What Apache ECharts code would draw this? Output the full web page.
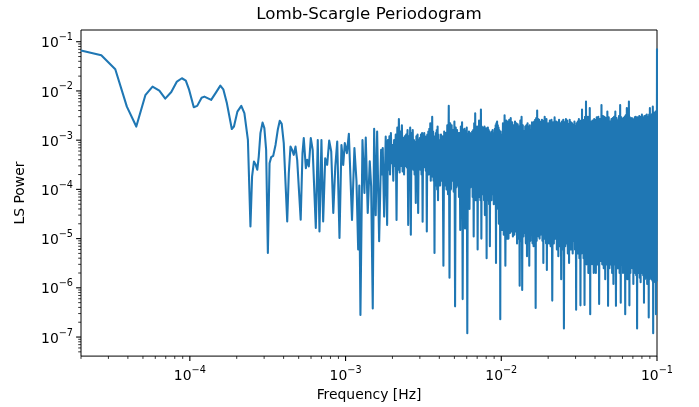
<!DOCTYPE html>
<html><head><meta charset="utf-8">
<script src="https://cdn.jsdelivr.net/npm/echarts@6/dist/echarts.min.js"></script>
<style>html,body{margin:0;padding:0;background:#fff}#c{width:699px;height:407px}</style>
</head><body><div id="c"></div>
<script>
// ---------- data ----------
const titleText = 'Lomb-Scargle Periodogram';
const xName = 'Frequency [Hz]';
const yName = 'LS Power';

// sparse low-frequency part (2e-5 .. 2e-3 Hz)
const freqLow = [
2.0e-5, 2.70e-5, 3.32e-5, 3.94e-5, 4.53e-5, 5.18e-5, 5.76e-5, 6.37e-5, 6.95e-5, 7.60e-5,
8.26e-5, 8.89e-5, 9.42e-5, 9.90e-5, 1.06e-4, 1.115e-4, 1.19e-4, 1.24e-4, 1.37e-4, 1.47e-4,
1.57e-4, 1.64e-4, 1.73e-4, 1.86e-4, 1.92e-4, 2.02e-4, 2.14e-4, 2.19e-4, 2.24e-4, 2.36e-4,
2.45e-4, 2.51e-4, 2.58e-4, 2.65e-4, 2.71e-4, 2.77e-4, 2.84e-4, 2.93e-4, 3.01e-4, 3.09e-4,
3.17e-4, 3.25e-4, 3.33e-4, 3.43e-4, 3.55e-4, 3.67e-4, 3.78e-4, 3.89e-4, 4.01e-4, 4.22e-4,
4.32e-4, 4.43e-4, 4.54e-4, 4.65e-4, 4.77e-4, 4.89e-4, 5.01e-4, 5.15e-4, 5.29e-4, 5.39e-4,
5.56e-4, 5.67e-4, 5.81e-4, 5.98e-4, 6.15e-4, 6.44e-4, 6.63e-4, 6.80e-4, 7.00e-4, 7.18e-4,
7.40e-4, 7.62e-4, 7.85e-4, 8.09e-4, 8.34e-4, 8.59e-4, 8.84e-4, 9.14e-4, 9.41e-4, 9.66e-4,
9.89e-4, 1.02e-3, 1.05e-3, 1.10e-3, 1.14e-3, 1.175e-3, 1.205e-3, 1.225e-3, 1.246e-3, 1.284e-3,
1.322e-3, 1.348e-3, 1.388e-3, 1.43e-3, 1.46e-3, 1.495e-3, 1.526e-3, 1.562e-3, 1.595e-3, 1.643e-3,
1.692e-3, 1.712e-3, 1.733e-3, 1.769e-3, 1.811e-3, 1.849e-3, 1.870e-3, 1.890e-3, 1.913e-3, 1.930e-3,
1.955e-3, 1.975e-3
];
const powerLow = [
0.066, 0.053, 0.0275, 4.8e-3, 1.89e-3, 8.2e-3, 0.0122, 0.0101, 6.98e-3, 9.5e-3,
0.0155, 0.0181, 0.0162, 0.0105, 4.68e-3, 4.97e-3, 7.3e-3, 7.66e-3, 6.57e-3, 9.25e-3,
0.0128, 0.0108, 5.6e-3, 1.69e-3, 1.89e-3, 3.8e-3, 4.97e-3, 4.6e-3, 3.53e-3, 1.01e-3,
1.77e-5, 1.83e-4, 3.68e-4, 3.15e-4, 2.5e-4, 4.65e-4, 1.39e-3, 2.27e-3, 1.75e-3, 6.35e-4,
5.1e-6, 3.41e-4, 4.52e-4, 4.8e-4, 8.0e-4, 1.62e-3, 2.47e-3, 2.14e-3, 8.7e-4, 2.23e-5,
2.14e-4, 7.4e-4, 6.35e-4, 5.03e-4, 7.4e-4, 3.98e-4, 3.68e-4, 2.42e-5, 5.45e-4, 1.1e-3,
2.7e-4, 3.98e-4, 2.92e-4, 1.1e-3, 6.35e-4, 1.64e-5, 1.01e-3, 1.4e-5, 1.01e-3, 2.23e-5,
4.3e-4, 3.15e-4, 9.8e-4, 5.9e-4, 3.3e-5, 2.92e-4, 9.4e-4, 1.03e-5, 8.0e-4, 3.15e-4,
8.7e-4, 5.45e-4, 1.34e-3, 2.4e-5, 6.9e-4, 1.5e-4, 6e-6, 1.2e-4, 2.8e-7, 1.0e-3,
8.5e-5, 1.13e-3, 3.3e-5, 3.7e-4, 1.15e-4, 3.8e-7, 1.7e-3, 3.0e-5, 1.5e-3, 8.8e-6,
6.4e-4, 2.0e-4, 6.9e-4, 2.8e-5, 1.18e-3, 1.9e-5, 1.0e-3, 2.5e-4, 1.2e-3, 2.0e-4,
1.4e-3, 3.4e-4
];

// dense part A: 2e-3 .. 4e-3 Hz
const freqA = [
2.000e-3, 2.025e-3, 2.050e-3, 2.075e-3, 2.100e-3, 2.125e-3, 2.150e-3, 2.175e-3, 2.200e-3, 2.225e-3,
2.250e-3, 2.275e-3, 2.300e-3, 2.325e-3, 2.350e-3, 2.375e-3, 2.400e-3, 2.425e-3, 2.450e-3, 2.475e-3,
2.500e-3, 2.525e-3, 2.550e-3, 2.575e-3, 2.600e-3, 2.625e-3, 2.650e-3, 2.675e-3, 2.700e-3, 2.725e-3,
2.750e-3, 2.775e-3, 2.800e-3, 2.825e-3, 2.850e-3, 2.875e-3, 2.900e-3, 2.925e-3, 2.950e-3, 2.975e-3,
3.000e-3, 3.025e-3, 3.050e-3, 3.075e-3, 3.100e-3, 3.125e-3, 3.150e-3, 3.175e-3, 3.200e-3, 3.225e-3,
3.250e-3, 3.275e-3, 3.300e-3, 3.325e-3, 3.350e-3, 3.375e-3, 3.400e-3, 3.425e-3, 3.450e-3, 3.475e-3,
3.500e-3, 3.525e-3, 3.550e-3, 3.575e-3, 3.600e-3, 3.625e-3, 3.650e-3, 3.675e-3, 3.700e-3, 3.725e-3,
3.750e-3, 3.775e-3, 3.800e-3, 3.825e-3, 3.850e-3, 3.875e-3, 3.900e-3, 3.925e-3, 3.950e-3, 3.975e-3
];
const powerA = [
8e-4, 1.5e-4, 1.0e-3, 3e-4, 1.3e-3, 2.4e-5, 1.8e-3, 2.5e-4, 2.7e-3, 2.2e-4,
1.5e-3, 3e-4, 2.0e-3, 2.3e-4, 1.1e-3, 2e-4, 1.2e-3, 3e-4, 1.3e-3, 2.8e-4,
1.6e-3, 1.9e-5, 1.2e-3, 2.6e-4, 1.8e-3, 1.2e-5, 1.4e-3, 3e-4, 1.6e-3, 2.5e-4,
1.0e-3, 2e-4, 9e-4, 5.3e-5, 1.2e-3, 2.5e-4, 1.3e-3, 3.3e-5, 1.0e-3, 3e-4,
1.1e-3, 2.5e-4, 1.3e-3, 2e-4, 1.4e-3, 2.2e-5, 1.2e-3, 2.8e-4, 1.4e-3, 3e-4,
1.1e-3, 2.4e-4, 1.2e-3, 1.4e-5, 1.3e-3, 2e-4, 1.5e-3, 2e-4, 1.7e-3, 2.5e-4,
2.2e-3, 1.5e-4, 1.6e-3, 2e-4, 3.0e-3, 1.8e-4, 1.5e-3, 1.5e-4, 1.1e-3, 5.1e-6,
1.2e-3, 1.3e-4, 1.4e-3, 1.2e-4, 1.6e-3, 1e-4, 1.9e-3, 6e-5, 1.3e-3, 1.2e-4
];

// dense part B: 4e-3 .. 1e-2 Hz
const freqB = [
4.00e-3, 4.05e-3, 4.10e-3, 4.15e-3, 4.20e-3, 4.25e-3, 4.30e-3, 4.35e-3, 4.40e-3, 4.45e-3,
4.50e-3, 4.55e-3, 4.60e-3, 4.65e-3, 4.70e-3, 4.75e-3, 4.80e-3, 4.85e-3, 4.90e-3, 4.95e-3,
5.00e-3, 5.05e-3, 5.10e-3, 5.15e-3, 5.20e-3, 5.25e-3, 5.30e-3, 5.35e-3, 5.40e-3, 5.45e-3,
5.50e-3, 5.55e-3, 5.60e-3, 5.65e-3, 5.70e-3, 5.75e-3, 5.80e-3, 5.85e-3, 5.90e-3, 5.95e-3,
6.00e-3, 6.05e-3, 6.10e-3, 6.15e-3, 6.20e-3, 6.25e-3, 6.30e-3, 6.35e-3, 6.40e-3, 6.45e-3,
6.50e-3, 6.55e-3, 6.60e-3, 6.65e-3, 6.70e-3, 6.75e-3, 6.80e-3, 6.85e-3, 6.90e-3, 6.95e-3,
7.00e-3, 7.05e-3, 7.10e-3, 7.15e-3, 7.20e-3, 7.25e-3, 7.30e-3, 7.35e-3, 7.40e-3, 7.45e-3,
7.50e-3, 7.55e-3, 7.60e-3, 7.65e-3, 7.70e-3, 7.75e-3, 7.80e-3, 7.85e-3, 7.90e-3, 7.95e-3,
8.00e-3, 8.05e-3, 8.10e-3, 8.15e-3, 8.20e-3, 8.25e-3, 8.30e-3, 8.35e-3, 8.40e-3, 8.45e-3,
8.50e-3, 8.55e-3, 8.60e-3, 8.65e-3, 8.70e-3, 8.75e-3, 8.80e-3, 8.85e-3, 8.90e-3, 8.95e-3,
9.00e-3, 9.05e-3, 9.10e-3, 9.15e-3, 9.20e-3, 9.25e-3, 9.30e-3, 9.35e-3, 9.40e-3, 9.45e-3,
9.50e-3, 9.55e-3, 9.60e-3, 9.65e-3, 9.70e-3, 9.75e-3, 9.80e-3, 9.85e-3, 9.90e-3, 9.95e-3
];
const powerB = [
1.0e-3, 1.2e-4, 1.3e-3, 1.5e-4, 1.2e-3, 2.8e-6, 1.5e-3, 1.2e-4, 1.4e-3, 1.0e-4,
2.0e-3, 8e-5, 5.0e-3, 1.6e-6, 2.2e-3, 1.0e-4, 2.0e-3, 1.5e-4, 1.6e-3, 9e-5,
2.4e-3, 4.2e-7, 1.8e-3, 1.1e-4, 1.6e-3, 1.2e-4, 1.4e-3, 7e-5, 1.4e-3, 1.5e-5,
1.9e-3, 1.0e-4, 2.3e-3, 5.9e-7, 1.6e-3, 8e-5, 1.7e-3, 1.6e-5, 1.5e-3, 1.2e-4,
1.8e-3, 1.2e-7, 1.3e-3, 9e-5, 1.5e-3, 4e-5, 1.4e-3, 1.1e-4, 1.2e-3, 1.3e-4,
1.5e-3, 7e-5, 1.6e-3, 1.1e-5, 2.2e-3, 8e-5, 3.5e-3, 6e-5, 1.9e-3, 1.0e-4,
1.9e-3, 6e-6, 1.6e-3, 7e-5, 2.5e-3, 7e-5, 2.0e-3, 6e-5, 4.2e-3, 1.0e-5,
1.9e-3, 8e-5, 1.8e-3, 8e-5, 1.6e-3, 6e-5, 1.9e-3, 3e-5, 1.7e-3, 7e-5,
1.75e-3, 4e-6, 1.5e-3, 6e-5, 1.8e-3, 1e-4, 1.6e-3, 5e-5, 1.5e-3, 7e-6,
1.4e-3, 6e-5, 1.3e-3, 6e-5, 1.5e-3, 8e-5, 1.6e-3, 1.5e-4, 1.4e-3, 5e-5,
1.3e-3, 1.2e-4, 1.7e-3, 6e-5, 2.0e-3, 3.2e-6, 2.2e-3, 5e-5, 2.4e-3, 6e-5,
2.0e-3, 4e-5, 1.8e-3, 2e-5, 1.6e-3, 5e-5, 1.3e-3, 2.3e-7, 1.5e-3, 3e-5
];

// dense part C: 1e-2 .. 2e-2 Hz
const freqC = [
1.0000e-2, 1.0125e-2, 1.0250e-2, 1.0375e-2, 1.0500e-2, 1.0625e-2, 1.0750e-2, 1.0875e-2,
1.1000e-2, 1.1125e-2, 1.1250e-2, 1.1375e-2, 1.1500e-2, 1.1625e-2, 1.1750e-2, 1.1875e-2,
1.2000e-2, 1.2125e-2, 1.2250e-2, 1.2375e-2, 1.2500e-2, 1.2625e-2, 1.2750e-2, 1.2875e-2,
1.3000e-2, 1.3125e-2, 1.3250e-2, 1.3375e-2, 1.3500e-2, 1.3625e-2, 1.3750e-2, 1.3875e-2,
1.4000e-2, 1.4125e-2, 1.4250e-2, 1.4375e-2, 1.4500e-2, 1.4625e-2, 1.4750e-2, 1.4875e-2,
1.5000e-2, 1.5125e-2, 1.5250e-2, 1.5375e-2, 1.5500e-2, 1.5625e-2, 1.5750e-2, 1.5875e-2,
1.6000e-2, 1.6125e-2, 1.6250e-2, 1.6375e-2, 1.6500e-2, 1.6625e-2, 1.6750e-2, 1.6875e-2,
1.7000e-2, 1.7125e-2, 1.7250e-2, 1.7375e-2, 1.7500e-2, 1.7625e-2, 1.7750e-2, 1.7875e-2,
1.8000e-2, 1.8125e-2, 1.8250e-2, 1.8375e-2, 1.8500e-2, 1.8625e-2, 1.8750e-2, 1.8875e-2,
1.9000e-2, 1.9125e-2, 1.9250e-2, 1.9375e-2, 1.9500e-2, 1.9625e-2, 1.9750e-2, 1.9875e-2
];
const powerC = [
1.3e-3, 1.5e-5, 2.2e-3, 1.2e-5, 3.2e-3, 2.8e-6, 2.5e-3, 1.0e-5,
2.4e-3, 1e-5, 2.6e-3, 1.3e-5, 2.8e-3, 1.4e-5, 2.3e-3, 1.1e-5,
2.0e-3, 1.2e-5, 2.4e-3, 1.4e-5, 2.2e-3, 8e-6, 2.1e-3, 1.0e-5,
1.9e-3, 1.1e-6, 2.5e-3, 9e-6, 3.0e-3, 9e-7, 2.0e-3, 1.1e-5,
1.5e-3, 1.3e-5, 1.9e-3, 8e-6, 2.0e-3, 4.4e-6, 2.2e-3, 1.0e-5,
1.8e-3, 2.8e-6, 2.0e-3, 9e-6, 1.6e-3, 1.2e-5, 2.3e-3, 8e-6,
2.2e-3, 7e-6, 2.4e-3, 1.0e-5, 2.6e-3, 3.9e-7, 2.8e-3, 9e-6,
4.0e-3, 1.5e-5, 2.7e-3, 1.1e-5, 2.6e-3, 1.0e-5, 2.3e-3, 1.2e-5,
2.4e-3, 1.4e-5, 2.6e-3, 9e-6, 2.0e-3, 3.2e-6, 2.5e-3, 1.0e-5,
3.0e-3, 1.2e-5, 2.4e-3, 8e-6, 2.7e-3, 2.3e-6, 2.2e-3, 9e-6
];

// dense part D: 2e-2 .. 4e-2 Hz
const freqD = [
2.000e-2, 2.025e-2, 2.050e-2, 2.075e-2, 2.100e-2, 2.125e-2, 2.150e-2, 2.175e-2, 2.200e-2, 2.225e-2,
2.250e-2, 2.275e-2, 2.300e-2, 2.325e-2, 2.350e-2, 2.375e-2, 2.400e-2, 2.425e-2, 2.450e-2, 2.475e-2,
2.500e-2, 2.525e-2, 2.550e-2, 2.575e-2, 2.600e-2, 2.625e-2, 2.650e-2, 2.675e-2, 2.700e-2, 2.725e-2,
2.750e-2, 2.775e-2, 2.800e-2, 2.825e-2, 2.850e-2, 2.875e-2, 2.900e-2, 2.925e-2, 2.950e-2, 2.975e-2,
3.000e-2, 3.025e-2, 3.050e-2, 3.075e-2, 3.100e-2, 3.125e-2, 3.150e-2, 3.175e-2, 3.200e-2, 3.225e-2,
3.250e-2, 3.275e-2, 3.300e-2, 3.325e-2, 3.350e-2, 3.375e-2, 3.400e-2, 3.425e-2, 3.450e-2, 3.475e-2,
3.500e-2, 3.525e-2, 3.550e-2, 3.575e-2, 3.600e-2, 3.625e-2, 3.650e-2, 3.675e-2, 3.700e-2, 3.725e-2,
3.750e-2, 3.775e-2, 3.800e-2, 3.825e-2, 3.850e-2, 3.875e-2, 3.900e-2, 3.925e-2, 3.950e-2, 3.975e-2
];
const powerD = [
2.2e-3, 8e-6, 2.5e-3, 7e-6, 2.6e-3, 5.5e-7, 2.3e-3, 8e-6, 2.9e-3, 1e-5,
2.4e-3, 6e-6, 2.3e-3, 4.4e-6, 2.6e-3, 7e-6, 2.2e-3, 1.5e-6, 2.4e-3, 6e-6,
2.6e-3, 1.5e-7, 2.3e-3, 7e-6, 2.7e-3, 8e-6, 2.5e-3, 5e-6, 2.1e-3, 3.2e-6,
2.6e-3, 6e-6, 2.3e-3, 6e-6, 2.2e-3, 5e-6, 2.0e-3, 9e-6, 2.4e-3, 6e-6,
1.9e-3, 3.6e-7, 2.2e-3, 5e-6, 2.4e-3, 5e-6, 2.7e-3, 4e-6, 2.2e-3, 4.4e-7,
2.5e-3, 5e-6, 4.2e-3, 6e-6, 2.6e-3, 4e-6, 2.5e-3, 4.5e-7, 3.0e-3, 4e-6,
6.1e-3, 3e-6, 2.8e-3, 4e-6, 3.0e-3, 2e-6, 2.6e-3, 3.5e-6, 4.5e-3, 2.9e-7,
2.4e-3, 3e-6, 1.9e-3, 3.5e-6, 2.5e-3, 3e-6, 2.4e-3, 2e-6, 2.7e-3, 3.5e-6
];

// dense part E: 4e-2 .. 1e-1 Hz
const freqE = [
4.00e-2, 4.05e-2, 4.10e-2, 4.15e-2, 4.20e-2, 4.25e-2, 4.30e-2, 4.35e-2, 4.40e-2, 4.45e-2,
4.50e-2, 4.55e-2, 4.60e-2, 4.65e-2, 4.70e-2, 4.75e-2, 4.80e-2, 4.85e-2, 4.90e-2, 4.95e-2,
5.00e-2, 5.05e-2, 5.10e-2, 5.15e-2, 5.20e-2, 5.25e-2, 5.30e-2, 5.35e-2, 5.40e-2, 5.45e-2,
5.50e-2, 5.55e-2, 5.60e-2, 5.65e-2, 5.70e-2, 5.75e-2, 5.80e-2, 5.85e-2, 5.90e-2, 5.95e-2,
6.00e-2, 6.05e-2, 6.10e-2, 6.15e-2, 6.20e-2, 6.25e-2, 6.30e-2, 6.35e-2, 6.40e-2, 6.45e-2,
6.50e-2, 6.55e-2, 6.60e-2, 6.65e-2, 6.70e-2, 6.75e-2, 6.80e-2, 6.85e-2, 6.90e-2, 6.95e-2,
7.00e-2, 7.05e-2, 7.10e-2, 7.15e-2, 7.20e-2, 7.25e-2, 7.30e-2, 7.35e-2, 7.40e-2, 7.45e-2,
7.50e-2, 7.55e-2, 7.60e-2, 7.65e-2, 7.70e-2, 7.75e-2, 7.80e-2, 7.85e-2, 7.90e-2, 7.95e-2,
8.00e-2, 8.05e-2, 8.10e-2, 8.15e-2, 8.20e-2, 8.25e-2, 8.30e-2, 8.35e-2, 8.40e-2, 8.45e-2,
8.50e-2, 8.55e-2, 8.60e-2, 8.65e-2, 8.70e-2, 8.75e-2, 8.80e-2, 8.85e-2, 8.90e-2, 8.95e-2,
9.00e-2, 9.05e-2, 9.10e-2, 9.15e-2, 9.20e-2, 9.25e-2, 9.30e-2, 9.35e-2, 9.40e-2, 9.45e-2,
9.50e-2, 9.55e-2, 9.60e-2, 9.65e-2, 9.70e-2, 9.75e-2, 9.80e-2, 9.85e-2, 9.90e-2, 9.95e-2,
1.0e-1
];
const powerE = [
2.6e-3, 2e-6, 2.9e-3, 3e-6, 3.0e-3, 4.7e-7, 2.7e-3, 3.5e-6, 5.2e-3, 3e-6,
3.1e-3, 2.5e-6, 3.0e-3, 1.5e-6, 2.8e-3, 3e-6, 3.8e-3, 4.3e-7, 2.9e-3, 2.5e-6,
2.4e-3, 3e-6, 2.7e-3, 2e-6, 2.8e-3, 1.2e-6, 3.0e-3, 3e-6, 3.8e-3, 4.3e-7,
2.8e-3, 2.5e-6, 2.5e-3, 2.5e-6, 3.1e-3, 2e-6, 5.2e-3, 5e-7, 2.9e-3, 3e-6,
2.6e-3, 2e-6, 2.8e-3, 2.5e-6, 3.0e-3, 2.9e-7, 3.2e-3, 2e-6, 4.5e-3, 1.5e-6,
3.0e-3, 2.5e-6, 6.1e-3, 4.4e-7, 2.9e-3, 2e-6, 2.6e-3, 3e-6, 2.8e-3, 2.5e-6,
2.4e-3, 1.2e-6, 2.7e-3, 2e-6, 2.9e-3, 2.5e-6, 3.0e-3, 1.8e-6, 2.7e-3, 1.5e-7,
2.9e-3, 2e-6, 2.8e-3, 2e-6, 3.1e-3, 1.6e-6, 2.7e-3, 1.3e-6, 3.0e-3, 2e-6,
3.3e-3, 3e-6, 2.9e-3, 1.8e-6, 2.9e-3, 5e-7, 3.1e-3, 1.5e-6, 3.0e-3, 2e-6,
3.2e-3, 1.6e-6, 3.3e-3, 1.2e-6, 3.0e-3, 1.8e-6, 3.0e-3, 2.5e-7, 3.3e-3, 1.5e-6,
4.5e-3, 2.5e-6, 3.2e-3, 1.6e-6, 3.2e-3, 1.5e-6, 3.4e-3, 1.4e-6, 4.8e-3, 1.2e-7,
3.3e-3, 1.5e-6, 3.6e-3, 2e-6, 3.4e-3, 1.3e-6, 3.8e-3, 2.9e-7, 3.5e-3, 1.4e-6,
0.073
];

// axis ranges and ticks
const xRange = [2.0e-5, 0.1];
const yRange = [4.1e-8, 0.173];
const xMajorTicks = [1e-4, 1e-3, 1e-2, 1e-1];
const yMajorTicks = [1e-7, 1e-6, 1e-5, 1e-4, 1e-3, 1e-2, 1e-1];
const minorMantissas = [2, 3, 4, 5, 6, 7, 8, 9];
const xDecades = [1e-5, 1e-4, 1e-3, 1e-2];
const yDecades = [1e-8, 1e-7, 1e-6, 1e-5, 1e-4, 1e-3, 1e-2, 1e-1];

// ---------- build ----------
const FONT = 'DejaVu Sans';
const series = [];
[[freqLow, powerLow], [freqA, powerA], [freqB, powerB], [freqC, powerC], [freqD, powerD], [freqE, powerE]]
  .forEach(([fs, ps]) => fs.forEach((f, i) => series.push([f, ps[i]])));

function minorList(decades, lo, hi) {
  const out = [];
  decades.forEach(d => minorMantissas.forEach(m => {
    const v = m * d;
    if (v >= lo * 0.9999 && v <= hi * 1.0001) out.push(v);
  }));
  return out;
}
const xTicks = xMajorTicks.map(v => [v, 1, yRange[0]])
  .concat(minorList(xDecades, xRange[0], xRange[1]).map(v => [v, 0, yRange[0]]));
const yTicks = yMajorTicks.map(v => [v, 1, xRange[0]])
  .concat(minorList(yDecades, yRange[0], yRange[1]).map(v => [v, 0, xRange[0]]));

function powLabel(v) {
  const l = Math.log10(v), e = Math.round(l);
  if (Math.abs(l - e) > 1e-6) return '';
  return '{b|10}{s|' + (e < 0 ? '\u2212' : '') + Math.abs(e) + '}';
}
const RICH = {
  b: { fontFamily: FONT, fontSize: 13.9, color: '#000', lineHeight: 18, verticalAlign: 'bottom' },
  s: { fontFamily: FONT, fontSize: 9.7, color: '#000', lineHeight: 11, verticalAlign: 'top' }
};

const chart = echarts.init(document.getElementById('c'), null, { renderer: 'canvas' });
chart.setOption({
  animation: false,
  backgroundColor: '#fff',
  title: {
    text: titleText, left: 369, top: 6, textAlign: 'center', padding: 0,
    textStyle: { fontFamily: FONT, fontSize: 16.7, fontWeight: 'normal', color: '#000' }
  },
  grid: { left: 81, top: 30, width: 576, height: 327, show: true, borderColor: '#000', borderWidth: 1, backgroundColor: 'transparent' },
  xAxis: {
    type: 'log', logBase: 10, min: xRange[0], max: xRange[1],
    axisLine: { show: false }, axisTick: { show: false }, splitLine: { show: false }, minorTick: { show: false },
    axisLabel: { interval: 0, margin: 9, formatter: powLabel, rich: RICH, hideOverlap: false },
    name: xName, nameLocation: 'middle', nameGap: 31,
    nameTextStyle: { fontFamily: FONT, fontSize: 13.9, color: '#000' }
  },
  yAxis: {
    type: 'log', logBase: 10, min: yRange[0], max: yRange[1],
    axisLine: { show: false }, axisTick: { show: false }, splitLine: { show: false }, minorTick: { show: false },
    axisLabel: { interval: 0, margin: 8, formatter: powLabel, rich: RICH, hideOverlap: false },
    name: yName, nameLocation: 'middle', nameGap: 54, nameRotate: 90,
    nameTextStyle: { fontFamily: FONT, fontSize: 13.9, color: '#000' }
  },
  series: [
    {
      type: 'line', data: series, symbol: 'none', showSymbol: false, clip: true, z: 2,
      silent: true,
      lineStyle: { color: '#1f77b4', width: 2.08, join: 'round', cap: 'butt' }
    },
    {
      type: 'custom', coordinateSystem: 'cartesian2d', clip: false, silent: true, z: 5,
      encode: { x: 0, y: 2 }, data: xTicks,
      renderItem: function (params, api) {
        const v = api.value(0), maj = api.value(1);
        const p = api.coord([v, yRange[0]]);
        const cs = params.coordSys, yb = cs.y + cs.height;
        const len = maj ? 4.9 : 2.8;
        return { type: 'line', shape: { x1: p[0], y1: yb, x2: p[0], y2: yb + len },
          style: { stroke: '#000', lineWidth: maj ? 1.1 : 0.8 } };
      }
    },
    {
      type: 'custom', coordinateSystem: 'cartesian2d', clip: false, silent: true, z: 5,
      encode: { x: 2, y: 0 }, data: yTicks,
      renderItem: function (params, api) {
        const v = api.value(0), maj = api.value(1);
        const p = api.coord([xRange[0], v]);
        const cs = params.coordSys, xl = cs.x;
        const len = maj ? 4.9 : 2.8;
        return { type: 'line', shape: { x1: xl - len, y1: p[1], x2: xl, y2: p[1] },
          style: { stroke: '#000', lineWidth: maj ? 1.1 : 0.8 } };
      }
    }
  ]
});
</script></body></html>
